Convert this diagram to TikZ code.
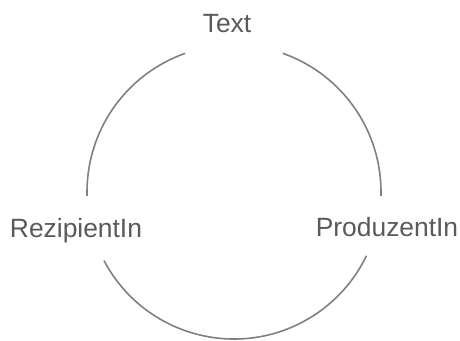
\documentclass[tikz,border=0pt]{standalone}
\usepackage{fontspec}
\setmainfont{Liberation Sans}
\begin{document}
\begin{tikzpicture}[x=0.75pt,y=0.75pt,
  lbl/.style={anchor=base,inner sep=0pt,text=black!65,font=\fontsize{19.8}{23}\selectfont},
  cyc/.style={draw=black!50,line width=1.2pt}]
\useasboundingbox (0,0) rectangle (460,340);
\coordinate (c) at (234,148);
\node[lbl] (text) at (227,307) {Text};
\node[lbl] (rez) at (76,103) {RezipientIn};
\node[lbl] (prod) at (387,104) {ProduzentIn};
\draw[cyc] ([shift={(109.4:147)}]c) arc[start angle=109.4,end angle=181.5,radius=147];
\draw[cyc] ([shift={(70.6:147)}]c) arc[start angle=70.6,end angle=-1.5,radius=147];
\draw[cyc] ([shift={(207.8:147)}]c) arc[start angle=207.8,end angle=334.3,radius=147];
\end{tikzpicture}
\end{document}
